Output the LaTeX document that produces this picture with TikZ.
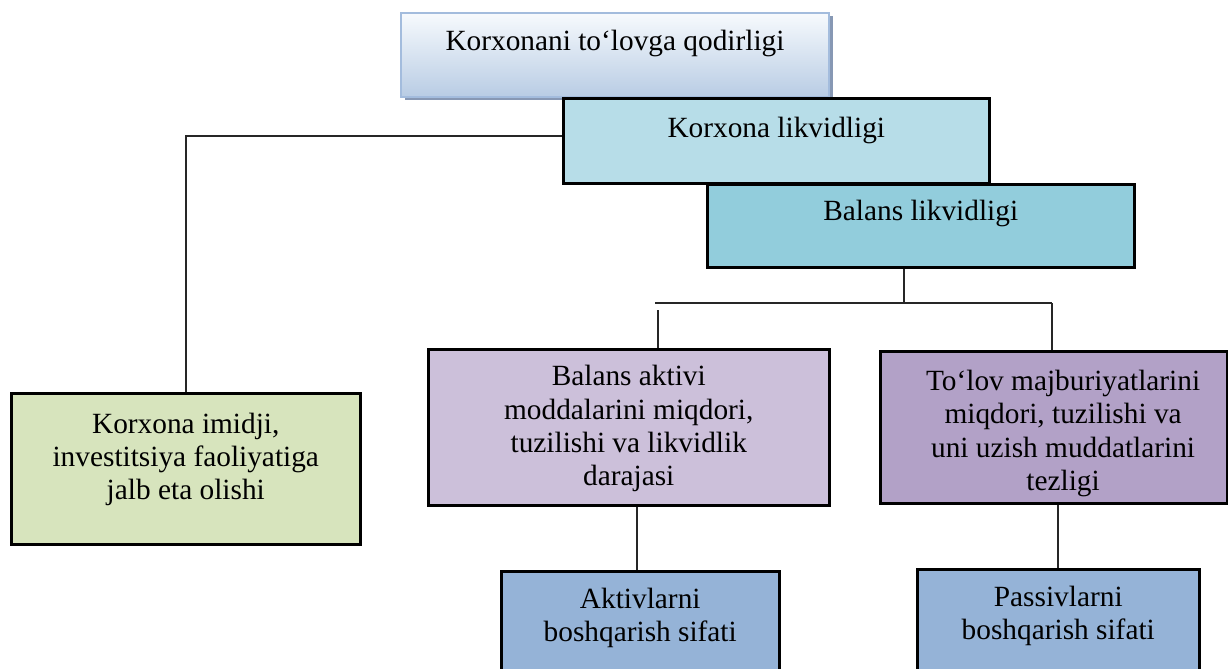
\documentclass[tikz,border=0pt]{standalone}
\usepackage{fontspec}
\setmainfont{Liberation Serif}
\usetikzlibrary{positioning, shadows}

\definecolor{solvtop}{HTML}{F7FAFD}
\definecolor{solvbottom}{HTML}{B8CCE4}
\definecolor{solvline}{HTML}{A3BCDD}
\definecolor{solvshadow}{HTML}{8798B4}
\definecolor{likvfill}{HTML}{B7DDE8}
\definecolor{balfill}{HTML}{92CDDC}
\definecolor{imidjfill}{HTML}{D7E4BD}
\definecolor{aktivfill}{HTML}{CCC0DA}
\definecolor{majbfill}{HTML}{B2A1C7}
\definecolor{sifatfill}{HTML}{95B3D7}

\begin{document}
\begin{tikzpicture}[x=0.75pt, y=-0.75pt,
    boxnode/.style={draw=black, line width=1.9pt, anchor=north west, inner sep=0pt},
    boxtext/.style={align=center, inner sep=0pt, font=\fontsize{22pt}{25pt}\selectfont},
    link/.style={draw=black!85, line width=1.2pt}]
    \path[use as bounding box, clip] (0,0) rectangle (1228,668);

    % Top box (gradient, shadow)
    \node[boxnode, draw=solvline, line width=1.5pt, top color=solvtop, bottom color=solvbottom,
        drop shadow={shadow xshift=3pt, shadow yshift=-2.25pt, fill=solvshadow, opacity=1},
        minimum width=321pt, minimum height=63pt] (solv) at (400,12) {};
    \node[boxtext, below=13.5pt of solv.north] (solvtext) {Korxonani to‘lovga qodirligi};

    % Korxona likvidligi
    \node[boxnode, fill=likvfill, minimum width=319.5pt, minimum height=63.75pt] (likv) at (562,97) {};
    \node[boxtext, below=14.8pt of likv.north] (likvtext) {Korxona likvidligi};

    % Balans likvidligi
    \node[boxnode, fill=balfill, minimum width=320.25pt, minimum height=62.25pt] (bal) at (706,183) {};
    \node[boxtext, below=12.8pt of bal.north] (baltext) {Balans likvidligi};

    % Left branch
    \node[boxnode, fill=imidjfill, minimum width=261.75pt, minimum height=113.25pt] (imidj) at (10,392) {};
    \node[boxtext, below=15.5pt of imidj.north] (imidjtext) {Korxona imidji,\\investitsiya faoliyatiga\\jalb eta olishi};
    \draw[link] ([yshift=3.4pt]likv.west) -| (imidj.north);

    % Second level
    \node[boxnode, fill=aktivfill, minimum width=300.75pt, minimum height=117pt] (aktiv) at (427,348) {};
    \node[boxtext, below=12.8pt of aktiv.north] (aktivtext) {Balans aktivi\\moddalarini miqdori,\\tuzilishi va likvidlik\\darajasi};
    \node[boxnode, fill=majbfill, minimum width=260.25pt, minimum height=114pt] (majb) at (879,350) {};
    \node[boxtext, below=15pt of majb.north, xshift=7pt] (majbtext) {To‘lov majburiyatlarini\\miqdori, tuzilishi va\\uni uzish muddatlarini\\tezligi};

    % Splitter under Balans likvidligi
    \coordinate (jl) at (655,303);
    \coordinate (jr) at (1052,303);
    \coordinate (jb) at (904,303);
    \coordinate (js) at (658,310);
    \draw[link] (bal.south -| jb) -- (jb);
    \draw[link] (jl) -- (jr);
    \draw[link] (jr) -- (majb.north -| jr);
    \draw[link] (js) -- (aktiv.north -| js);

    % Bottom boxes
    \node[boxnode, fill=sifatfill, minimum width=208.5pt, minimum height=82.5pt] (aktsif) at (500,570) {};
    \node[boxtext, below=13.5pt of aktsif.north] (aktsiftext) {Aktivlarni\\boshqarish sifati};
    \node[boxnode, fill=sifatfill, minimum width=211.5pt, minimum height=84pt] (passif) at (916,568) {};
    \node[boxtext, below=13.5pt of passif.north] (passiftext) {Passivlarni\\boshqarish sifati};
    \draw[link] (aktiv.south -| aktsif.north) ++(-2.25pt,0) -- ([xshift=-2.25pt]aktsif.north);
    \draw[link] (majb.south -| passif.north) -- (passif.north);
\end{tikzpicture}
\end{document}
